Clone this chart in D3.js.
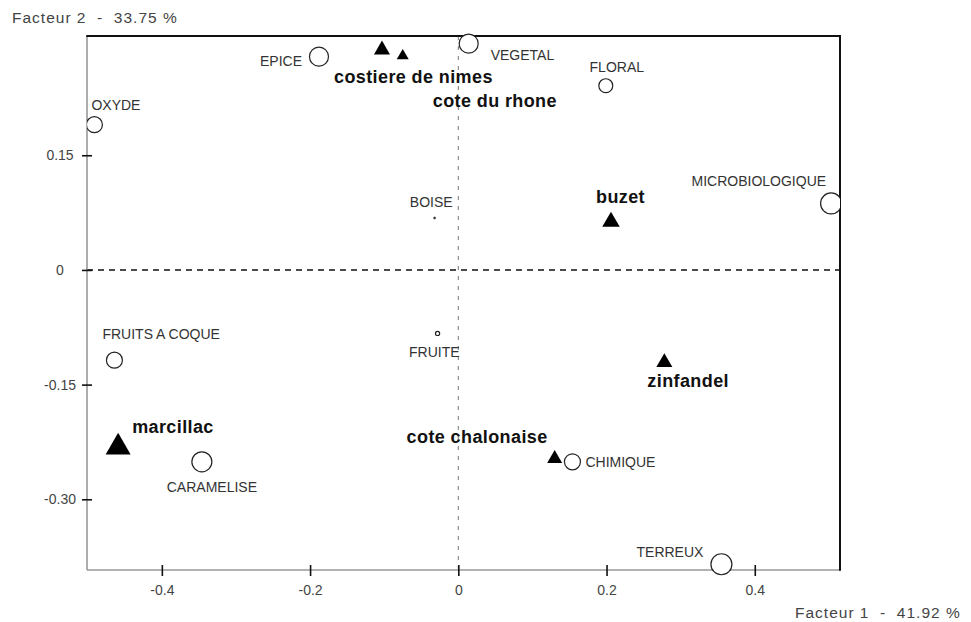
<!DOCTYPE html>
<html>
<head>
<meta charset="utf-8">
<script src="https://cdn.jsdelivr.net/npm/d3@7"></script>
<style>
  body { margin: 0; background: #fff; }
  svg { display: block; font-family: "Liberation Sans", Arial, sans-serif; }
</style>
</head>
<body>
<script>
// descriptors (circles)
const variables = ["EPICE", "VEGETAL", "FLORAL", "OXYDE", "BOISE", "MICROBIOLOGIQUE",
  "FRUITS A COQUE", "FRUITE", "CARAMELISE", "CHIMIQUE", "TERREUX"];
const varF1 = [-0.188, 0.014, 0.199, -0.491, -0.032, 0.503, -0.464, -0.028, -0.346, 0.154, 0.355];
const varF2 = [0.279, 0.296, 0.241, 0.190, 0.068, 0.087, -0.118, -0.083, -0.251, -0.251, -0.385];
const varQuality = [0.82, 0.82, 0.44, 0.58, 0.01, 1.0, 0.58, 0.04, 0.91, 0.58, 1.0];

// wines (triangles)
const wines = ["costiere de nimes", "cote du rhone", "buzet", "zinfandel", "marcillac", "cote chalonaise"];
const wineF1 = [-0.103, -0.075, 0.206, 0.278, -0.459, 0.130];
const wineF2 = [0.288, 0.280, 0.063, -0.121, -0.232, -0.247];
const wineQuality = [0.41, 0.23, 0.49, 0.41, 1.0, 0.36];

const xTicks = [-0.4, -0.2, 0, 0.2, 0.4];
const xTickLabels = ["-0.4", "-0.2", "0", "0.2", "0.4"];
const yTicks = [0.15, 0, -0.15, -0.30];
const yTickLabels = ["0.15", "0", "-0.15", "-0.30"];

const xTitle = "Facteur 1  -  41.92 %";
const yTitle = "Facteur 2  -  33.75 %";

// label placement (layout only)
const varLabelPos = {
  "EPICE": [-17, 9, "end"], "VEGETAL": [22, 16, "start"], "FLORAL": [11, -14, "middle"],
  "OXYDE": [-3, -15, "start"], "BOISE": [18, -11, "end"], "MICROBIOLOGIQUE": [-5, -17, "end"],
  "FRUITS A COQUE": [-12, -21, "start"], "FRUITE": [22, 24, "end"], "CARAMELISE": [10, 30, "middle"],
  "CHIMIQUE": [13, 5, "start"], "TERREUX": [-18, -7, "end"]
};
const wineLabelPos = {
  "costiere de nimes": [-48, 33, "start"], "cote du rhone": [30, 51, "start"],
  "buzet": [-15, -19, "start"], "zinfandel": [-17, 25, "start"],
  "marcillac": [14, -14, "start"], "cote chalonaise": [-7, -16, "end"]
};

const W = 971, H = 622;
const svg = d3.select("body").append("svg").attr("width", W).attr("height", H);

const x = d3.scaleLinear().domain([-0.501, 0.515]).range([87, 840]);
const y = d3.scaleLinear().domain([-0.3925, 0.306]).range([570, 36]);
const rCircle = d3.scaleSqrt().domain([0, 1]).range([0, 10.5]);
const sideTri = d3.scaleSqrt().domain([0, 1]).range([0, 25]);

const [x0, x1] = x.range();
const [y0, y1] = y.range();

svg.append("clipPath").attr("id", "plotClip")
  .append("rect").attr("x", x0).attr("y", 0).attr("width", x1 - x0).attr("height", H);

// zero lines
svg.append("line")
  .attr("x1", x0).attr("x2", x1).attr("y1", y(0)).attr("y2", y(0))
  .attr("stroke", "#111").attr("stroke-width", 1.6).attr("stroke-dasharray", "6,5");
svg.append("line")
  .attr("x1", x(0)).attr("x2", x(0)).attr("y1", y1).attr("y2", y0)
  .attr("stroke", "#777").attr("stroke-width", 1).attr("stroke-dasharray", "4,6");

// frame
svg.append("line").attr("x1", x0).attr("x2", x0).attr("y1", y1).attr("y2", y0)
  .attr("stroke", "#999").attr("stroke-width", 1.6);
svg.append("line").attr("x1", x0).attr("x2", x1).attr("y1", y0).attr("y2", y0)
  .attr("stroke", "#999").attr("stroke-width", 1.6);
svg.append("line").attr("x1", x0 - 0.8).attr("x2", x1 + 1).attr("y1", y1).attr("y2", y1)
  .attr("stroke", "#111").attr("stroke-width", 2);
svg.append("line").attr("x1", x1).attr("x2", x1).attr("y1", y1).attr("y2", y0 + 0.8)
  .attr("stroke", "#111").attr("stroke-width", 2);

// axes
const xAxis = svg.append("g").attr("transform", `translate(0,${y0})`)
  .call(d3.axisBottom(x).tickValues(xTicks).tickFormat((d, i) => xTickLabels[i]).tickSize(6));
xAxis.select(".domain").remove();
xAxis.selectAll(".tick line").attr("y1", -5).attr("y2", 6).attr("stroke", "#111").attr("stroke-width", 1.6);
xAxis.selectAll(".tick text").attr("y", 15).attr("fill", "#444")
  .style("font-size", "14px").style("font-family", "Liberation Sans, Arial, sans-serif");

const yAxis = svg.append("g").attr("transform", `translate(${x0},0)`)
  .call(d3.axisLeft(y).tickValues(yTicks).tickFormat((d, i) => yTickLabels[i]).tickSize(5));
yAxis.select(".domain").remove();
yAxis.selectAll(".tick line").attr("x1", -5).attr("x2", 5).attr("stroke", "#111").attr("stroke-width", 1.6);
yAxis.selectAll(".tick text").attr("x", -27).attr("text-anchor", "middle").attr("fill", "#444")
  .style("font-size", "14px").style("font-family", "Liberation Sans, Arial, sans-serif");

// axis titles
svg.append("text").attr("x", 12).attr("y", 23).text(yTitle)
  .attr("fill", "#444").style("font-size", "15.5px").style("letter-spacing", "1px")
  .style("white-space", "pre");
svg.append("text").attr("x", 795).attr("y", 618).text(xTitle)
  .attr("fill", "#444").style("font-size", "15.5px").style("letter-spacing", "1px")
  .style("white-space", "pre");

// descriptor points
const varData = variables.map((name, i) => ({ name, f1: varF1[i], f2: varF2[i], q: varQuality[i] }));
const varLayer = svg.append("g").attr("clip-path", "url(#plotClip)");
varLayer.selectAll("circle")
  .data(varData)
  .join("circle")
  .attr("cx", d => x(d.f1))
  .attr("cy", d => y(d.f2))
  .attr("r", d => Math.max(1, rCircle(d.q)))
  .attr("fill", d => d.q < 0.02 ? "#333" : "#fff")
  .attr("stroke", "#222")
  .attr("stroke-width", d => d.q < 0.02 ? 0.5 : 1.2);

svg.append("g").selectAll("text")
  .data(varData)
  .join("text")
  .attr("x", d => x(d.f1) + varLabelPos[d.name][0])
  .attr("y", d => y(d.f2) + varLabelPos[d.name][1])
  .attr("text-anchor", d => varLabelPos[d.name][2])
  .attr("fill", "#333")
  .style("font-size", "14px")
  .text(d => d.name);

// wine points
const wineData = wines.map((name, i) => ({ name, f1: wineF1[i], f2: wineF2[i], q: wineQuality[i] }));
const tri = d3.symbol().type(d3.symbolTriangle)
  .size(d => Math.sqrt(3) / 4 * Math.pow(sideTri(d.q), 2));
svg.append("g").selectAll("path")
  .data(wineData)
  .join("path")
  .attr("transform", d => `translate(${x(d.f1)},${y(d.f2)})`)
  .attr("d", tri)
  .attr("fill", "#000");

svg.append("g").selectAll("text")
  .data(wineData)
  .join("text")
  .attr("x", d => x(d.f1) + wineLabelPos[d.name][0])
  .attr("y", d => y(d.f2) + wineLabelPos[d.name][1])
  .attr("text-anchor", d => wineLabelPos[d.name][2])
  .attr("fill", "#111")
  .style("font-size", "18px")
  .style("font-weight", "bold")
  .style("letter-spacing", "0.4px")
  .text(d => d.name);
</script>
</body>
</html>
